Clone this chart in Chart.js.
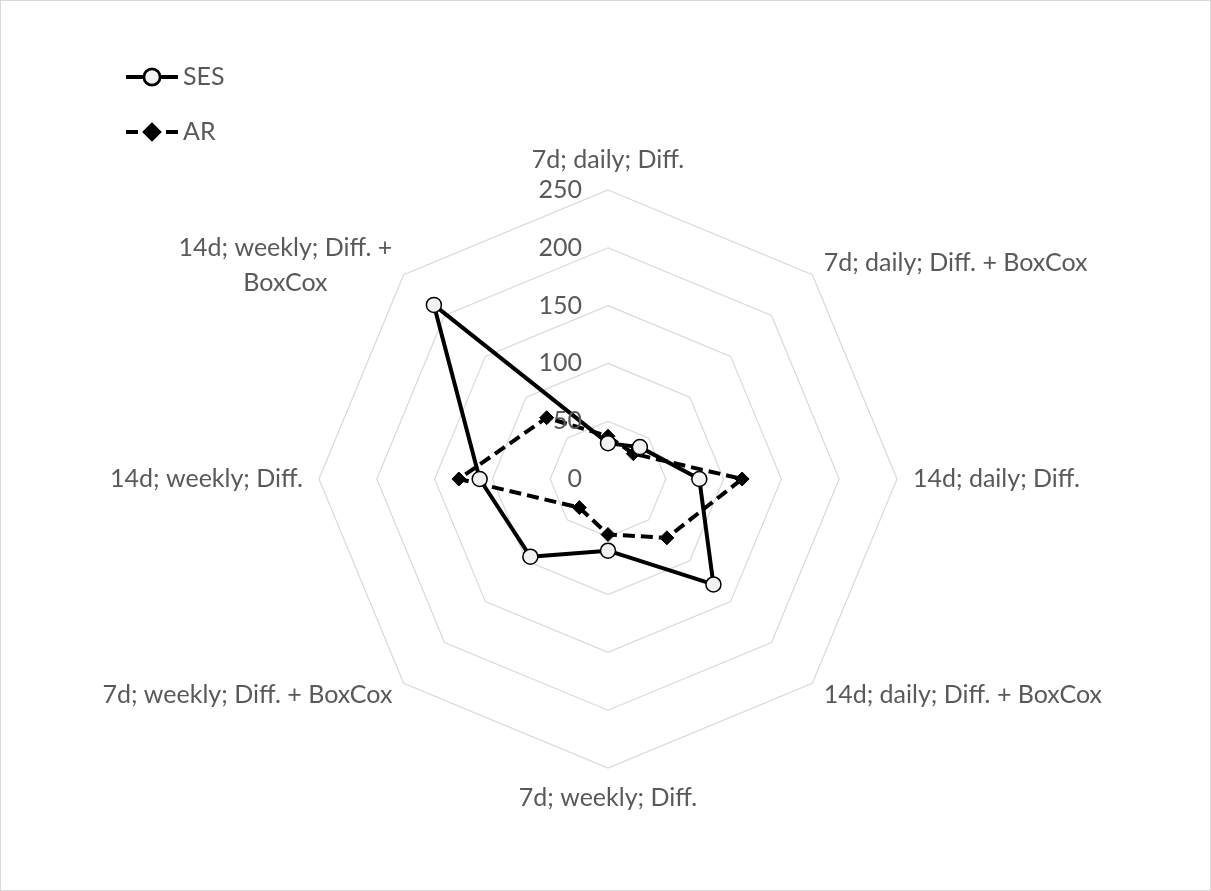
<!DOCTYPE html>
<html>
<head>
<meta charset="utf-8">
<script src="https://cdn.jsdelivr.net/npm/chart.js@4.4.1/dist/chart.umd.min.js"></script>
<style>
  html, body { margin: 0; padding: 0; background: #fff; }
  #wrap { width: 1211px; height: 891px; }
</style>
</head>
<body>
<div id="wrap"><canvas id="radar" width="1211" height="891"></canvas></div>
<script>
// Data
const axisLabels = [
  '7d; daily; Diff.',
  '7d; daily; Diff. + BoxCox',
  '14d; daily; Diff.',
  '14d; daily; Diff. + BoxCox',
  '7d; weekly; Diff.',
  '7d; weekly; Diff. + BoxCox',
  '14d; weekly; Diff.',
  ['14d; weekly; Diff. +', 'BoxCox']
];
const sesValues = [31, 39, 79, 129, 62, 95, 111, 213];
const arValues = [37, 31, 116, 72, 48, 35, 129, 75];
const seriesNames = ['SES', 'AR'];
const axisMin = 0;
const axisMax = 250;
const axisStep = 50;

const textColor = '#595959';
const gridColor = '#d9d9d9';
const fontFamily = 'Lato, "Open Sans", sans-serif';
const fontSize = 25;

// Draws the Excel-like tick labels, axis labels, legend and frame
const excelDecor = {
  id: 'excelDecor',
  afterDraw(chart) {
    const ctx = chart.ctx;
    const scale = chart.scales.r;
    ctx.save();

    // frame
    ctx.strokeStyle = gridColor;
    ctx.lineWidth = 1;
    ctx.strokeRect(0.5, 0.5, chart.width - 1, chart.height - 1);

    ctx.fillStyle = textColor;
    ctx.font = fontSize + 'px ' + fontFamily;

    // tick labels, left of the vertical axis
    ctx.textAlign = 'right';
    ctx.textBaseline = 'middle';
    scale.ticks.forEach(t => {
      const d = scale.getDistanceFromCenterForValue(t.value);
      ctx.fillText(t.label, scale.xCenter - 26, scale.yCenter - d);
    });

    // axis labels
    const pad = 16;
    const lineH = 35;
    axisLabels.forEach((lab, i) => {
      const lines = Array.isArray(lab) ? lab : [lab];
      const p = scale.getPointPosition(i, scale.drawingArea + pad);
      const dx = p.x - scale.xCenter;
      const dy = p.y - scale.yCenter;
      const w = Math.max(...lines.map(l => ctx.measureText(l).width));
      const h = lines.length * lineH;
      let cx = p.x;
      if (dx > 1) cx = p.x + w / 2;
      else if (dx < -1) cx = p.x - w / 2;
      let cy = p.y;
      if (Math.abs(dx) <= 1) cy = dy < 0 ? p.y - h / 2 + 3 : p.y + h / 2 - 4;
      else if (lines.length > 1) cy = p.y + 2;
      ctx.textAlign = 'center';
      lines.forEach((l, k) => {
        ctx.fillText(l, cx, cy - h / 2 + lineH * (k + 0.5));
      });
    });

    // legend
    const legendY = [77, 132];
    chart.data.datasets.forEach((ds, i) => {
      const y = legendY[i];
      ctx.strokeStyle = ds.borderColor;
      ctx.lineWidth = ds.borderWidth;
      ctx.beginPath();
      if (ds.borderDash) {
        [[126, 138], [166, 178]].forEach(s => { ctx.moveTo(s[0], y); ctx.lineTo(s[1], y); });
      } else {
        ctx.moveTo(126, y);
        ctx.lineTo(178, y);
      }
      ctx.stroke();
      Chart.helpers.drawPoint(ctx, {
        pointStyle: ds.pointStyle,
        radius: ds.pointRadius,
        borderWidth: ds.pointBorderWidth,
        rotation: 0
      }, 152, y);
      ctx.fillStyle = ds.pointBackgroundColor;
      ctx.strokeStyle = ds.pointBorderColor;
      ctx.lineWidth = ds.pointBorderWidth;
      ctx.fill();
      ctx.stroke();
      ctx.fillStyle = textColor;
      ctx.textAlign = 'left';
      ctx.textBaseline = 'middle';
      ctx.fillText(ds.label, 183, y);
    });

    ctx.restore();
  }
};

const chartRadar = new Chart(document.getElementById('radar').getContext('2d'), {
  type: 'radar',
  data: {
    labels: axisLabels,
    datasets: [
      {
        label: seriesNames[0],
        data: sesValues,
        borderColor: '#000000',
        borderWidth: 4,
        borderJoinStyle: 'round',
        fill: false,
        pointStyle: 'circle',
        pointRadius: 7.5,
        pointBackgroundColor: '#f2f2f2',
        pointBorderColor: '#000000',
        pointBorderWidth: 1.5
      },
      {
        label: seriesNames[1],
        data: arValues,
        borderColor: '#000000',
        borderWidth: 4,
        borderDash: [12, 6],
        borderJoinStyle: 'round',
        fill: false,
        pointStyle: 'rectRot',
        pointRadius: 7,
        pointBackgroundColor: '#000000',
        pointBorderColor: '#000000',
        pointBorderWidth: 1
      }
    ]
  },
  options: {
    responsive: false,
    animation: false,
    layout: {
      padding: { left: 319, right: 314, top: 190, bottom: 123 }
    },
    plugins: {
      legend: { display: false },
      tooltip: { enabled: false }
    },
    scales: {
      r: {
        min: axisMin,
        max: axisMax,
        ticks: { stepSize: axisStep, display: false },
        grid: { color: gridColor, lineWidth: 1.2, circular: false },
        angleLines: { display: false },
        pointLabels: { display: false }
      }
    }
  },
  plugins: [excelDecor]
});
</script>
</body>
</html>
